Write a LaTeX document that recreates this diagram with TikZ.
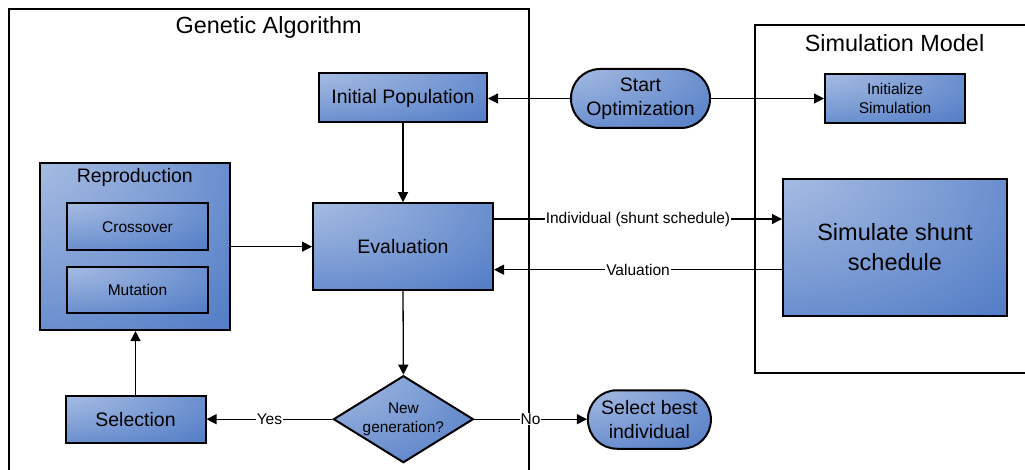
\documentclass[tikz,border=0pt]{standalone}
\usepackage{fontspec}
\setmainfont{Liberation Sans}
\usetikzlibrary{shapes.geometric,arrows.meta}
\definecolor{gaL}{HTML}{B2C5E6}
\definecolor{gaD}{HTML}{4673C2}
\pgfdeclareradialshading{gablue}{\pgfpoint{-38bp}{38bp}}{color(0bp)=(gaL); color(5bp)=(gaL); color(70bp)=(gaD); color(130bp)=(gaD)}
\begin{document}
\begin{tikzpicture}[x=1pt,y=-1pt,
  box/.style={draw=black, line width=2pt, shading=gablue, inner sep=0pt, align=center, font=\fontsize{19.5}{23.5}\selectfont},
  smallbox/.style={box, font=\fontsize{15.5}{19}\selectfont},
  stadium/.style={box, font=\fontsize{19.5}{24.5}\selectfont},
  decision/.style={box, diamond, aspect=1.61, font=\fontsize{15.4}{19}\selectfont},
  frame/.style={draw=black, line width=2pt},
  titletext/.style={font=\fontsize{23.4}{28}\selectfont, inner sep=0pt},
  conn/.style={draw=black, line width=1.3pt, -{Triangle[length=10pt,width=10pt]}},
  lbl/.style={fill=white, inner sep=0.8pt, font=\fontsize{15.5}{18}\selectfont}
]
\useasboundingbox (0,0) rectangle (1025,470);
% frames
\draw[frame] (8.6,471) -- (8.6,8.6) -- (528.6,8.6) -- (528.6,471);
\draw[frame] (1026,25.4) -- (755.3,25.4) -- (755.3,373) -- (1026,373);
\node[titletext] (gatitle) at (268.6,27) {Genetic Algorithm};
\node[titletext] (smtitle) at (894.5,43.5) {Simulation Model};
% nodes
\node[box, minimum width=168pt, minimum height=49pt] (ip) at (403,98) {Initial Population};
\node[stadium, minimum width=139pt, minimum height=59pt, rounded corners=29pt] (so) at (640.5,98.5) {Start\\Optimization};
\node[smallbox, minimum width=140pt, minimum height=49pt] (is) at (895,98.5) {Initialize\\Simulation};
\node[box, minimum width=190.4pt, minimum height=167.3pt] (repro) at (134.8,246.4) {};
\node[inner sep=0pt, font=\fontsize{19.5}{23.5}\selectfont] (reprotitle) at (134.8,177.5) {Reproduction};
\node[smallbox, minimum width=141pt, minimum height=46.5pt] (cross) at (137.5,226.7) {Crossover};
\node[smallbox, minimum width=141pt, minimum height=46.5pt] (mut) at (137.5,290) {Mutation};
\node[box, minimum width=180pt, minimum height=87pt] (ev) at (403,246.7) {Evaluation};
\node[box, minimum width=224pt, minimum height=137pt, font=\fontsize{23.5}{29.5}\selectfont] (sim) at (895,247.3) {Simulate shunt\\schedule};
\node[box, minimum width=140pt, minimum height=46.6pt] (sel) at (135.5,419.3) {Selection};
\node[decision, minimum width=140pt, minimum height=87pt] (dia) at (403.4,419.2) {New\\generation?};
\node[stadium, minimum width=123pt, minimum height=58.5pt, rounded corners=29pt] (sb) at (649.4,419.5) {Select best\\individual};
% connectors
\draw[conn] (so.west) -- (so.west -| ip.east);
\draw[conn] (so.east) -- (so.east -| is.west);
\draw[conn] (ip.south) -- (ev.north);
\draw[conn] (repro.east |- ev.west) -- (ev.west);
\draw[conn] ([yshift=27.7pt]ev.east) -- node[lbl]{Individual (shunt schedule)} ([yshift=27.7pt]ev.east -| sim.west);
\draw[conn] ([yshift=-23pt]ev.east -| sim.west) -- node[lbl]{Valuation} ([yshift=-23pt]ev.east);
\draw[conn] (ev.south) -- (dia.north);
\draw[conn] (dia.west) -- node[lbl]{Yes} (dia.west -| sel.east);
\draw[conn] (dia.east) -- node[lbl]{No} (dia.east -| sb.west);
\draw[conn] (sel.north) -- (sel.north |- repro.south);
\end{tikzpicture}
\end{document}
